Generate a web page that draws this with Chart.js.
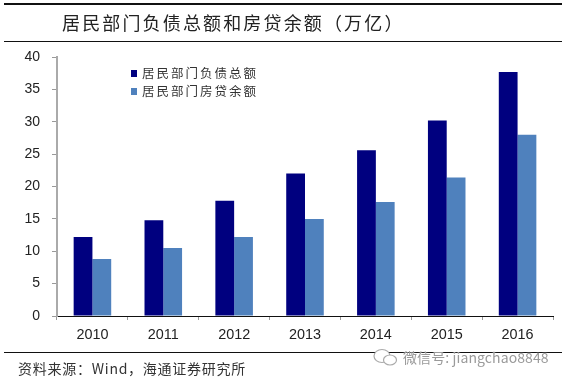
<!DOCTYPE html>
<html>
<head>
<meta charset="utf-8">
<script src="https://cdn.jsdelivr.net/npm/chart.js@4/dist/chart.umd.min.js"></script>
<style>
  html, body { margin: 0; padding: 0; background: #fff; }
  #wrap { position: relative; width: 566px; height: 382px; overflow: hidden; font-family: "Noto Sans CJK SC", sans-serif; }
  #wrap canvas { position: absolute; left: 0; top: 0; }
  .rule { position: absolute; left: 4px; height: 1px; background: #111; }
  .txt { position: absolute; white-space: nowrap; }
  #title { left: 62px; top: 9px; font-size: 18px; line-height: 26px; letter-spacing: 2.15px; color: #222; }
  #source { left: 18px; top: 358px; font-size: 14px; line-height: 20px; letter-spacing: .75px; color: #333; }
  #mark { left: 403px; top: 347px; font-size: 14px; line-height: 20px; letter-spacing: .1px; color: #9a9a9a; text-shadow: 0 0 2px #fff; }
  #icon { position: absolute; left: 371px; top: 347px; }
  .lg { position: absolute; left: 131px; display: flex; align-items: center; font-size: 12.5px; line-height: 16px; letter-spacing: 2px; color: #333; white-space: nowrap; }
  .lg i { width: 6px; height: 7px; margin-right: 5px; display: block; }
</style>
</head>
<body>
<div id="wrap">
  <canvas id="c" width="566" height="382"></canvas>
  <div class="rule" style="top:3px;width:558px;height:2px"></div>
  <div class="rule" style="top:41px;width:558px"></div>
  <div class="rule" style="top:352px;width:558px"></div>
  <div class="txt" id="title">居民部门负债总额和房贷余额（万亿）</div>
  <div class="txt" id="source">资料来源：Wind，海通证券研究所</div>
  <svg id="icon" width="28" height="20" viewBox="0 0 28 20">
    <ellipse cx="11" cy="9" rx="8" ry="6.5" fill="#fff" stroke="#aaa" stroke-width="1.2"/>
    <ellipse cx="19" cy="13" rx="6.5" ry="5" fill="#fff" stroke="#aaa" stroke-width="1.2"/>
  </svg>
  <div class="txt" id="mark">微信号: jiangchao8848</div>
</div>
<script>
// values, in 万亿
const years = ['2010', '2011', '2012', '2013', '2014', '2015', '2016'];
const debtTotal = [12.2, 14.8, 17.8, 22.0, 25.6, 30.2, 37.7];
const mortgage = [8.8, 10.5, 12.2, 15.0, 17.6, 21.4, 28.0];
const seriesNames = ['居民部门负债总额', '居民部门房贷余额'];
const seriesColors = ['#00007f', '#4f81bd'];
const legendTops = [65, 83];

// legend sits inside the plot, so it is plain html
seriesNames.forEach((name, i) => {
  const el = document.createElement('div');
  el.className = 'lg';
  el.style.top = legendTops[i] + 'px';
  el.innerHTML = '<i style="background:' + seriesColors[i] + '"></i>' + name;
  document.getElementById('wrap').appendChild(el);
});

const tickFont = { family: '"Liberation Sans", Arial, sans-serif', size: 14 };

new Chart(document.getElementById('c'), {
  type: 'bar',
  data: {
    labels: years,
    datasets: [
      { label: seriesNames[0], data: debtTotal, backgroundColor: seriesColors[0], barPercentage: 1, categoryPercentage: 0.53 },
      { label: seriesNames[1], data: mortgage, backgroundColor: seriesColors[1], barPercentage: 1, categoryPercentage: 0.53 }
    ]
  },
  options: {
    responsive: false,
    animation: false,
    layout: { padding: { top: 57, right: 13, left: 0, bottom: 0 } },
    plugins: { legend: { display: false }, title: { display: false }, tooltip: { enabled: false } },
    scales: {
      x: {
        afterFit: s => { s.height = 66; },
        border: { color: '#111', width: 1 },
        grid: { drawOnChartArea: false, color: '#999', tickLength: 4 },
        ticks: { color: '#222', font: { family: tickFont.family, size: 14.4 }, padding: 6, maxRotation: 0 }
      },
      y: {
        min: 0,
        max: 40,
        afterFit: s => { s.width = 57; },
        border: { color: '#aaa', width: 2 },
        grid: { drawOnChartArea: false, color: '#999', tickLength: 5 },
        ticks: { color: '#222', font: tickFont, stepSize: 5, padding: 12 }
      }
    }
  }
});
</script>
</body>
</html>
